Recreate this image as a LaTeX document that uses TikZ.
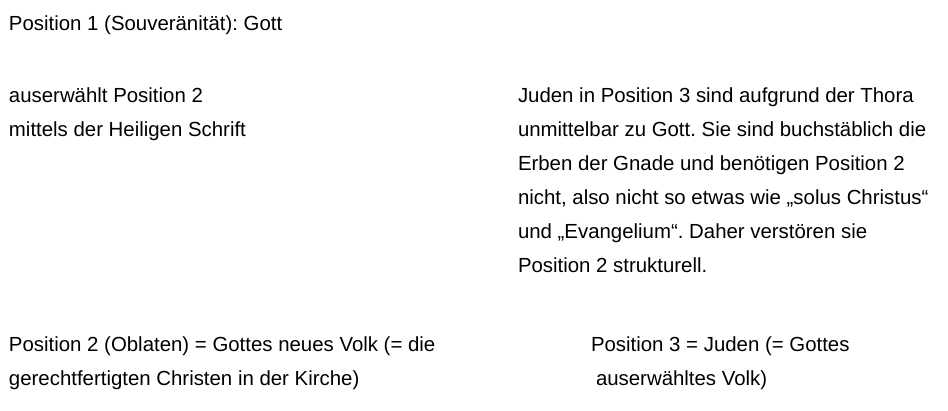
\documentclass[tikz,border=0pt]{standalone}
\usepackage{fontspec}
\setmainfont{Liberation Sans}
\frenchspacing
\begin{document}
\begin{tikzpicture}[x=1pt,y=-1pt,
  txt/.style={anchor=base west,inner sep=0pt,outer sep=0pt,font=\fontsize{20.4}{34}\selectfont\frenchspacing}]
\useasboundingbox[fill=white] (0,0) rectangle (948,410);
\node[txt] (p1) at (9,30) {Position 1 (Souveränität): Gott};
\node[txt] (l1) at (9,102) {auserwählt Position 2};
\node[txt] (l2) at (9,136) {mittels der Heiligen Schrift};
\node[txt] (r1) at (518,102) {Juden in Position 3 sind aufgrund der Thora};
\node[txt] (r2) at (518,136) {unmittelbar zu Gott. Sie sind buchstäblich die};
\node[txt] (r3) at (518,170) {Erben der Gnade und benötigen Position 2};
\node[txt] (r4) at (518,204) {nicht, also nicht so etwas wie „solus Christus“};
\node[txt] (r5) at (518,238) {und „Evangelium“. Daher verstören sie};
\node[txt] (r6) at (518,272) {Position 2 strukturell.};
\node[txt] (b1) at (9,351) {Position 2 (Oblaten) = Gottes neues Volk (= die};
\node[txt] (b2) at (9,385) {gerechtfertigten Christen in der Kirche)};
\node[txt] (c1) at (591,351) {Position 3 = Juden (= Gottes};
\node[txt] (c2) at (596,385) {auserwähltes Volk)};
\end{tikzpicture}
\end{document}
